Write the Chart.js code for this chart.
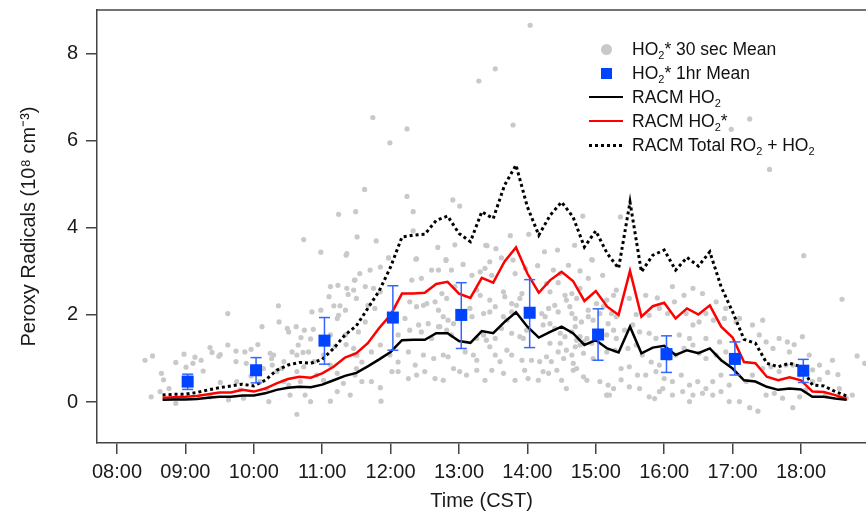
<!DOCTYPE html>
<html><head><meta charset="utf-8">
<script src="https://cdn.jsdelivr.net/npm/chart.js@4.4.1/dist/chart.umd.min.js"></script>
<style>
html,body{margin:0;padding:0;background:#fff;overflow:hidden}
#wrap{position:relative;width:866px;height:522px}
#legend{position:absolute;left:589px;top:37px;font-family:'Liberation Sans',Arial,sans-serif;font-size:17.5px;color:#111}
.row{display:flex;align-items:center;height:24px;white-space:nowrap}
.mk{width:34px;height:24px;display:flex;align-items:center;justify-content:center;margin-right:9px}
sub{font-size:11px;line-height:0;vertical-align:-4px}
.dot{width:11px;height:11px;border-radius:50%;background:#c9c9c9}
.sq{width:11px;height:11px;background:#0044ff}
.ln{width:34px;height:2.5px}
.dt{width:34px;height:3px;background:repeating-linear-gradient(90deg,#000 0 3px,transparent 3px 6px)}
</style></head>
<body><div id="wrap"><canvas id="c" width="866" height="522"></canvas>
<div id="legend">
<div class="row"><span class="mk"><span class="dot"></span></span><span>HO<sub>2</sub>* 30 sec Mean</span></div>
<div class="row"><span class="mk"><span class="sq"></span></span><span>HO<sub>2</sub>* 1hr Mean</span></div>
<div class="row"><span class="mk"><span class="ln" style="background:#000"></span></span><span>RACM HO<sub>2</sub></span></div>
<div class="row"><span class="mk"><span class="ln" style="background:#ff0000"></span></span><span>RACM HO<sub>2</sub>*</span></div>
<div class="row"><span class="mk"><span class="dt"></span></span><span>RACM Total RO<sub>2</sub> + HO<sub>2</sub></span></div>
</div></div>
<script>
// ---- data ----
const tickHours = [8,9,10,11,12,13,14,15,16,17,18];
const tickLabels = ['08:00','09:00','10:00','11:00','12:00','13:00','14:00','15:00','16:00','17:00','18:00'];
const yTicks = [0,2,4,6,8];

const modelTimes = ['08:40','08:50','09:00','09:10','09:20','09:30','09:40','09:50','10:00','10:10','10:20','10:30','10:40','10:50','11:00','11:10','11:20','11:30','11:40','11:50','12:00','12:10','12:20','12:30','12:40','12:50','13:00','13:10','13:20','13:30','13:40','13:50','14:00','14:10','14:20','14:30','14:40','14:50','15:00','15:10','15:20','15:30','15:40','15:50','16:00','16:10','16:20','16:30','16:40','16:50','17:00','17:10','17:20','17:30','17:40','17:50','18:00','18:10','18:20','18:30','18:40'];
const racmHO2 = [0.05,0.06,0.06,0.07,0.10,0.12,0.12,0.15,0.15,0.20,0.28,0.33,0.35,0.34,0.40,0.50,0.60,0.67,0.82,0.98,
1.15,1.42,1.43,1.43,1.58,1.58,1.40,1.36,1.63,1.58,1.84,2.06,1.73,1.48,1.61,1.73,1.58,1.31,1.42,1.23,
1.14,1.73,1.12,1.25,1.29,1.08,1.19,1.12,1.23,0.96,0.77,0.50,0.47,0.35,0.28,0.31,0.29,0.12,0.12,0.08,0.05];
const racmHO2Star = [0.10,0.11,0.12,0.14,0.18,0.22,0.22,0.28,0.24,0.31,0.43,0.53,0.58,0.56,0.66,0.81,1.02,1.12,1.35,1.70,
2.00,2.49,2.49,2.51,2.71,2.76,2.49,2.39,2.85,2.74,3.23,3.55,2.95,2.51,2.80,2.99,2.78,2.32,2.55,2.19,
2.00,3.01,1.96,2.20,2.28,1.92,2.15,2.01,2.22,1.73,1.48,0.92,0.89,0.58,0.50,0.57,0.50,0.24,0.23,0.16,0.07];
const racmTotal = [0.16,0.18,0.18,0.22,0.28,0.33,0.37,0.41,0.37,0.50,0.73,0.85,0.91,0.89,0.98,1.23,1.54,1.75,2.15,2.55,
3.10,3.79,3.83,3.85,4.17,4.27,3.87,3.68,4.37,4.21,4.98,5.44,4.48,3.83,4.29,4.59,4.25,3.56,3.93,3.41,
3.07,4.59,2.99,3.37,3.49,3.03,3.32,3.12,3.45,2.64,2.07,1.44,1.35,0.89,0.81,0.89,0.81,0.39,0.37,0.24,0.14];

const hourlyTimes = ['09:02','10:02','11:02','12:02','13:02','14:02','15:02','16:02','17:02','18:02'];
const hourlyMean = [0.47,0.73,1.41,1.94,2.00,2.05,1.55,1.10,0.99,0.72];
const hourlyLow  = [0.29,0.44,0.87,1.19,1.23,1.25,0.96,0.68,0.62,0.45];
const hourlyHigh = [0.64,1.02,1.94,2.67,2.74,2.81,2.14,1.52,1.38,0.98];

// 30 s means: [decimal hour, value]
const ho2Star30s = [
[14.04,8.65],[13.53,7.65],[13.29,7.37],[13.79,6.36],[17.25,6.50],[16.98,6.26],[17.54,5.34],[14.81,4.27],[15.36,4.25],[13.75,3.82],[14.02,3.85],[13.41,3.59],[13.54,3.52],[14.44,3.49],[14.94,3.27],[18.04,3.36],
[11.74,6.53],[12.24,6.27],[11.99,5.95],[11.62,4.88],[12.24,4.72],[11.24,4.31],[11.49,4.37],[12.33,4.37],[12.91,4.64],[13.01,4.50],[10.73,3.73],[11.51,3.79],[11.79,3.70],[12.33,3.93],[10.98,3.44],[11.36,3.41],[12.69,3.55],[12.94,3.61],[11.97,3.31],[12.38,3.29],[12.81,3.27],[13.39,3.60],
[13.79,3.26],[14.69,3.60],[14.25,3.45],[11.35,3.37],
[8.41,0.96],[8.52,1.06],[8.65,0.66],[8.68,0.51],[8.86,0.91],[8.98,1.10],[9.01,0.80],[9.11,0.89],[9.14,1.03],[9.23,0.96],[9.26,0.71],[9.36,1.25],[9.39,1.14],[9.49,1.05],[9.51,1.09],[9.62,2.03],[9.62,1.31],[9.74,1.17],[9.74,0.93],[9.87,1.15],[9.89,0.89],[9.96,1.21],[10.06,1.32],[10.12,1.73],[10.06,0.66],[10.24,1.12],[10.26,1.00],[10.36,2.21],[10.37,1.84],[10.49,1.69],[10.51,1.61],[10.62,1.73],[10.65,1.31],[10.69,1.48],[10.72,1.14],[10.74,1.65],[10.83,1.45],[10.85,2.07],[10.87,1.67],[10.80,1.15],[10.98,2.11],[11.12,2.65],[11.10,2.42],[11.17,2.21],[11.23,2.68],[11.26,2.21],[11.34,2.11],[11.36,2.61],[11.38,2.47],[11.47,2.80],[11.22,1.92],[11.24,1.99],[11.34,1.54],[11.46,2.57],[11.19,1.28],[11.12,1.54],[11.35,1.32],
[8.50,0.12],[8.63,0.24],[8.76,0.31],[8.86,-0.03],[9.36,0.12],[9.51,0.45],[9.63,0.05],[9.75,0.47],[9.80,0.28],[9.85,0.09],[9.96,0.60],[10.09,0.47],[10.19,0.30],[10.22,0.01],[10.27,0.85],[10.34,0.70],[10.41,0.77],[10.44,0.47],[10.51,0.39],[10.53,0.16],[10.63,-0.28],[10.63,0.70],[10.68,0.47],[10.75,0.16],[10.83,0.01],[10.92,0.62],[11.02,0.50],[11.12,0.02],[11.22,0.24],[11.31,0.43],[11.41,0.16],[11.48,0.62],[10.73,0.81],[10.88,0.93],[10.29,1.08],[10.14,0.77],[10.44,0.93],[11.51,1.08],[11.46,1.23],[10.63,1.08],[10.56,1.15],[11.02,1.08],[11.12,0.85],[11.22,0.66],
[11.97,3.31],[12.37,3.28],[12.81,3.25],[13.06,3.16],[13.45,3.22],[13.62,3.31],[14.15,3.13],[14.95,3.26],[15.10,2.91],[11.55,2.95],[11.70,3.03],[11.63,2.65],[11.85,3.10],[12.60,3.03],[12.70,3.03],[12.89,3.03],[13.19,2.91],[13.31,2.99],[13.38,3.07],[13.48,2.91],[13.82,2.95],[13.97,3.07],[14.38,3.03],[14.48,2.95],[14.60,3.14],[14.77,3.01],[14.89,2.84],[11.48,2.80],[11.75,2.61],[12.31,2.80],[12.45,2.84],
[11.50,2.38],[11.67,2.22],[11.77,2.15],[11.63,1.84],[11.53,1.61],[11.85,2.53],[12.28,2.30],[12.38,2.19],[12.48,2.22],[12.53,2.26],[12.65,2.30],[12.70,2.11],[12.21,1.92],[12.41,1.77],[12.55,1.80],[12.70,1.73],[12.11,1.54],[12.28,1.65],[12.45,1.61],[12.60,1.46],
[11.48,1.08],[11.58,0.92],[11.72,1.15],[11.85,1.31],[11.99,1.08],[12.11,0.92],[12.26,1.15],[12.36,0.85],[12.48,1.08],[12.63,1.00],[11.58,0.47],[11.72,0.47],[11.85,0.33],[11.86,0.02],[12.02,0.70],[12.11,0.70],[12.26,0.54],[12.38,0.62],[12.50,0.70],[12.65,0.54],[11.50,0.77],[15.16,0.16],
[12.75,2.49],[12.82,2.38],[12.94,2.65],[13.26,2.57],[13.31,2.45],[13.45,2.34],[13.65,2.53],[13.67,2.42],[13.77,2.26],[13.89,2.38],[13.92,2.49],[14.28,2.72],[14.33,2.53],[14.45,2.74],[14.55,2.45],[14.57,2.34],[14.65,2.49],[14.72,2.38],[14.77,2.61],[15.01,2.26],[15.16,2.34],[15.26,2.45],[15.30,2.57],
[12.77,1.96],[12.84,1.88],[12.92,1.80],[13.16,2.15],[13.19,1.96],[13.36,2.03],[13.45,2.07],[13.53,2.19],[13.65,1.96],[13.70,1.88],[13.77,2.07],[13.84,2.22],[14.21,2.03],[14.26,1.96],[14.31,2.15],[14.40,2.22],[14.45,2.07],[14.62,2.19],[14.65,2.03],[14.70,1.92],[14.79,1.84],[14.89,1.96],[14.96,1.88],[15.06,2.03],[15.11,2.19],[15.23,2.03],[15.30,1.96],[15.18,1.80],[14.89,2.11],
[12.72,1.73],[12.82,1.65],[12.89,1.54],[13.26,1.46],[13.36,1.54],[13.40,1.42],[13.53,1.46],[13.62,1.69],[13.77,1.58],[13.89,1.50],[13.94,1.46],[14.23,1.77],[14.33,1.80],[14.40,1.69],[14.48,1.58],[14.55,1.50],[14.65,1.61],[14.70,1.73],[14.72,1.42],[14.77,1.50],[14.82,1.38],[14.87,1.46],[14.94,1.35],[15.16,1.54],[15.26,1.65],[15.30,1.46],[14.48,1.35],[14.70,1.27],[14.77,1.31],[14.33,1.35],[14.57,1.19],[13.99,1.65],[13.70,1.19],[13.77,1.08],
[12.77,1.08],[12.84,1.04],[13.09,1.15],[13.21,1.08],[13.26,0.96],[13.45,1.27],[13.53,1.08],[13.60,0.93],[13.92,0.96],[14.06,0.96],[14.18,0.93],[14.28,1.04],[14.35,0.93],[14.45,1.15],[14.53,1.00],[14.65,1.08],[14.67,0.89],[14.72,0.77],[14.82,1.12],[14.96,1.00],[15.16,1.15],[15.28,1.19],
[12.77,0.50],[12.92,0.77],[13.01,0.70],[13.11,0.62],[13.26,0.73],[13.38,0.50],[13.48,0.73],[13.65,0.66],[13.82,0.50],[13.96,0.73],[14.01,0.54],[14.16,0.50],[14.23,0.70],[14.31,0.66],[14.43,0.73],[14.50,0.50],[14.67,0.73],[14.82,0.58],[14.87,0.50],[15.06,0.47],[15.18,0.39],[15.26,0.31],[15.16,0.16],[14.57,0.31],
[15.90,2.39],[16.05,2.03],[15.59,2.01],[15.78,1.99],[15.93,2.15],[16.15,2.30],[16.32,2.03],[16.42,1.77],[16.51,1.84],[16.61,2.03],[16.72,1.88],[16.88,1.92],[17.05,1.84],[17.29,1.77],[17.44,1.88],[17.68,1.46],[17.80,1.38],[17.90,1.32],[18.02,1.50],[18.60,2.36],[18.82,1.06],[18.93,0.89],[18.46,0.96],[18.54,0.63],[18.39,0.68],[18.27,0.52],[18.17,0.47],[18.07,0.28],[17.98,0.12],[17.88,-0.13],[17.73,0.09],[17.61,0.20],[17.49,0.16],[17.37,-0.21],[17.25,-0.13],[17.10,0.01],[17.20,0.47],[17.29,0.62],[17.44,0.77],[17.56,0.81],[17.68,0.70],[17.78,0.85],[17.49,1.38],[17.59,1.23],
[15.42,1.65],[15.54,1.77],[15.64,1.61],[15.78,1.58],[15.88,1.46],[15.47,1.23],[15.59,1.31],[15.68,1.08],[15.81,0.92],[15.93,0.85],[16.07,1.00],[16.17,1.08],[16.29,1.23],[16.42,1.31],[16.51,1.12],[16.61,1.00],[16.76,1.08],[16.90,1.15],[16.22,1.54],[16.37,1.46],[16.61,1.46],[16.81,1.38],
[15.37,0.77],[15.49,0.81],[15.61,0.62],[15.73,0.62],[15.88,0.70],[16.00,0.54],[16.12,0.47],[16.25,0.62],[16.37,0.39],[16.49,0.47],[16.61,0.31],[16.71,0.47],[16.83,0.62],[16.95,0.39],[15.37,0.51],[15.49,0.35],[15.64,0.31],[15.78,0.12],[15.86,0.08],[15.98,0.31],[16.12,0.16],[16.27,0.24],[16.42,0.16],[16.56,0.20],[16.71,0.16],[16.83,0.24],[16.95,0.01],[15.20,0.16],[15.93,0.24],[16.37,0.01],
[15.49,2.38],[15.73,2.45],[16.12,2.65],[16.29,2.45],[16.42,2.61],[16.56,2.49],[16.76,2.30],[16.90,2.15],[17.10,1.92],[17.39,1.54],[17.83,1.15],[18.12,1.08],[18.27,0.85],[17.88,0.85],[17.98,0.62],[18.17,0.74],[18.56,0.31],[18.75,0.16],[18.66,0.09],[18.36,0.16]
];

// ---- chart ----
const FONT = "'Liberation Sans', Arial, sans-serif";
const TXT = '#1a1a1a';
const AX = '#444';
const toH = s => { const p = s.split(':'); return Number(p[0]) + Number(p[1]) / 60; };
const series = vals => modelTimes.map((t, i) => ({ x: toH(t), y: vals[i] }));
const errData = [];
hourlyTimes.forEach((t, i) => {
  errData.push({ x: toH(t), y: hourlyLow[i] }, { x: toH(t), y: hourlyHigh[i] }, { x: toH(t), y: null });
});

const topBorder = {
  id: 'topBorder',
  afterDraw(chart) {
    const { ctx, chartArea: a } = chart;
    ctx.save();
    ctx.strokeStyle = AX; ctx.lineWidth = 1.5;
    ctx.beginPath(); ctx.moveTo(a.left - 0.75, a.top); ctx.lineTo(a.right, a.top); ctx.stroke();
    ctx.restore();
  }
};
const noPad = s => { s.paddingTop = 0; s.paddingBottom = 0; s.paddingLeft = 0; s.paddingRight = 0; };

new Chart(document.getElementById('c'), {
  type: 'line',
  plugins: [topBorder],
  data: {
    datasets: [
      { type: 'scatter', label: 'HO2* 30 sec Mean', data: ho2Star30s.map(p => ({ x: p[0], y: p[1] })),
        xAxisID: 'x', yAxisID: 'y', pointRadius: 2.6, pointBackgroundColor: '#c9c9c9', pointBorderWidth: 0, showLine: false, order: 10 },
      { label: 'RACM Total RO2 + HO2', data: series(racmTotal), xAxisID: 'x', yAxisID: 'y',
        borderColor: '#000', borderWidth: 3, borderDash: [3, 3], pointRadius: 0, tension: 0, order: 6 },
      { label: 'RACM HO2*', data: series(racmHO2Star), xAxisID: 'x', yAxisID: 'y',
        borderColor: '#ff0000', borderWidth: 2.5, pointRadius: 0, tension: 0, order: 5 },
      { label: 'RACM HO2', data: series(racmHO2), xAxisID: 'x', yAxisID: 'y',
        borderColor: '#000', borderWidth: 2.5, pointRadius: 0, tension: 0, order: 4 },
      { label: 'error', data: errData, xAxisID: 'x', yAxisID: 'y', spanGaps: false,
        borderColor: '#3366ff', borderWidth: 1.5, pointStyle: 'line', pointRadius: 5.5,
        pointBorderColor: '#3366ff', pointBorderWidth: 1.5, order: 2 },
      { type: 'scatter', label: 'HO2* 1hr Mean', data: hourlyTimes.map((t, i) => ({ x: toH(t), y: hourlyMean[i] })),
        xAxisID: 'x', yAxisID: 'y', pointStyle: 'rect', pointRadius: 8.5, pointBackgroundColor: '#0044ff', pointBorderWidth: 0, showLine: false, order: 1 }
    ]
  },
  options: {
    responsive: false, animation: false, events: [],
    layout: { autoPadding: false, padding: { top: 10, left: 0, right: 0, bottom: 0 } },
    plugins: { legend: { display: false }, tooltip: { enabled: false } },
    scales: {
      x: {
        type: 'linear', position: 'bottom', min: 7.708, max: 18.95,
        afterBuildTicks: s => { s.ticks = tickHours.map(v => ({ value: v })); },
        afterFit: s => { s.height = 79; noPad(s); },
        ticks: { callback: v => tickLabels[tickHours.indexOf(v)], font: { family: FONT, size: 20 }, color: TXT, padding: 6, maxRotation: 0, autoSkip: false },
        grid: { drawOnChartArea: false, drawTicks: true, tickLength: 11, color: AX, lineWidth: 1.5 },
        border: { color: AX, width: 1.5 },
        title: { display: true, text: 'Time (CST)', font: { family: FONT, size: 20 }, color: TXT, padding: { top: 0, bottom: 9 } }
      },
      y: {
        type: 'linear', position: 'left', min: -0.94, max: 9.0,
        afterBuildTicks: s => { s.ticks = yTicks.map(v => ({ value: v })); },
        afterFit: s => { s.width = 97; noPad(s); },
        ticks: { font: { family: FONT, size: 20 }, color: TXT, padding: 8 },
        grid: { drawOnChartArea: false, drawTicks: true, tickLength: 11, color: AX, lineWidth: 1.5 },
        border: { color: AX, width: 1.5 },
        title: { display: true, text: 'Peroxy Radicals (10\u2078 cm\u207B\u00B3)', font: { family: FONT, size: 20 }, color: TXT, padding: { top: 17, bottom: 0 } }
      }
    }
  }
});
</script>
</body></html>
